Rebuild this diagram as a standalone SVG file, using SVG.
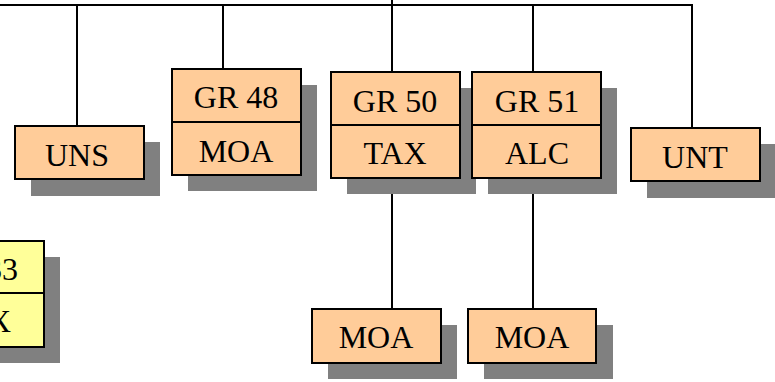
<svg xmlns="http://www.w3.org/2000/svg" width="775" height="382" viewBox="0 0 775 382">
<style>
.sh{fill:#808080}
.bx{fill:#FFCC99;stroke:#000;stroke-width:2}
.yb{fill:#FFFF99;stroke:#000;stroke-width:2}
.ln{stroke:#000;stroke-width:2;fill:none}
text{font-family:"Liberation Serif","Times New Roman",serif;font-size:32px;fill:#000;text-anchor:middle}
</style>
<rect width="775" height="382" fill="#fff"/>
<g id="connectors">
<path class="ln" d="M0 5H692V128"/>
<path class="ln" d="M77 5V126"/>
<path class="ln" d="M223 5V69"/>
<path class="ln" d="M392 0V72"/>
<path class="ln" d="M533 5V72"/>
<path class="ln" d="M392 178V309"/>
<path class="ln" d="M533 178V309"/>
</g>
<g id="n-gr33">
<rect class="sh" x="-69" y="257" width="129" height="106"/>
<rect class="yb" x="-85" y="241" width="129" height="52"/>
<rect class="yb" x="-85" y="293" width="129" height="54"/>
<text x="18" y="280" style="text-anchor:end">33</text>
<text x="11" y="332" style="text-anchor:end">X</text>
</g>
<g id="n-uns">
<rect class="sh" x="31" y="142" width="129" height="54"/>
<rect class="bx" x="15" y="126" width="129" height="53"/>
<text x="77" y="166">UNS</text>
</g>
<g id="n-gr48">
<rect class="sh" x="188" y="85" width="129" height="106"/>
<rect class="bx" x="172" y="69" width="129" height="53"/>
<rect class="bx" x="172" y="122" width="129" height="53"/>
<text x="236" y="108">GR 48</text>
<text x="236" y="162">MOA</text>
</g>
<g id="n-gr50">
<rect class="sh" x="347" y="88" width="129" height="106"/>
<rect class="bx" x="331" y="72" width="129" height="53"/>
<rect class="bx" x="331" y="125" width="129" height="53"/>
<text x="395" y="112">GR 50</text>
<text x="395" y="164">TAX</text>
</g>
<g id="n-gr51">
<rect class="sh" x="488" y="88" width="129" height="106"/>
<rect class="bx" x="472" y="72" width="129" height="53"/>
<rect class="bx" x="472" y="125" width="129" height="53"/>
<text x="537" y="112">GR 51</text>
<text x="537" y="164">ALC</text>
</g>
<g id="n-unt">
<rect class="sh" x="647" y="144" width="129" height="54"/>
<rect class="bx" x="631" y="128" width="129" height="53"/>
<text x="695" y="168">UNT</text>
</g>
<g id="n-moa1">
<rect class="sh" x="328" y="325" width="129" height="54"/>
<rect class="bx" x="312" y="309" width="129" height="54"/>
<text x="376" y="348">MOA</text>
</g>
<g id="n-moa2">
<rect class="sh" x="484" y="325" width="129" height="54"/>
<rect class="bx" x="468" y="309" width="128" height="54"/>
<text x="532" y="348">MOA</text>
</g>
</svg>
